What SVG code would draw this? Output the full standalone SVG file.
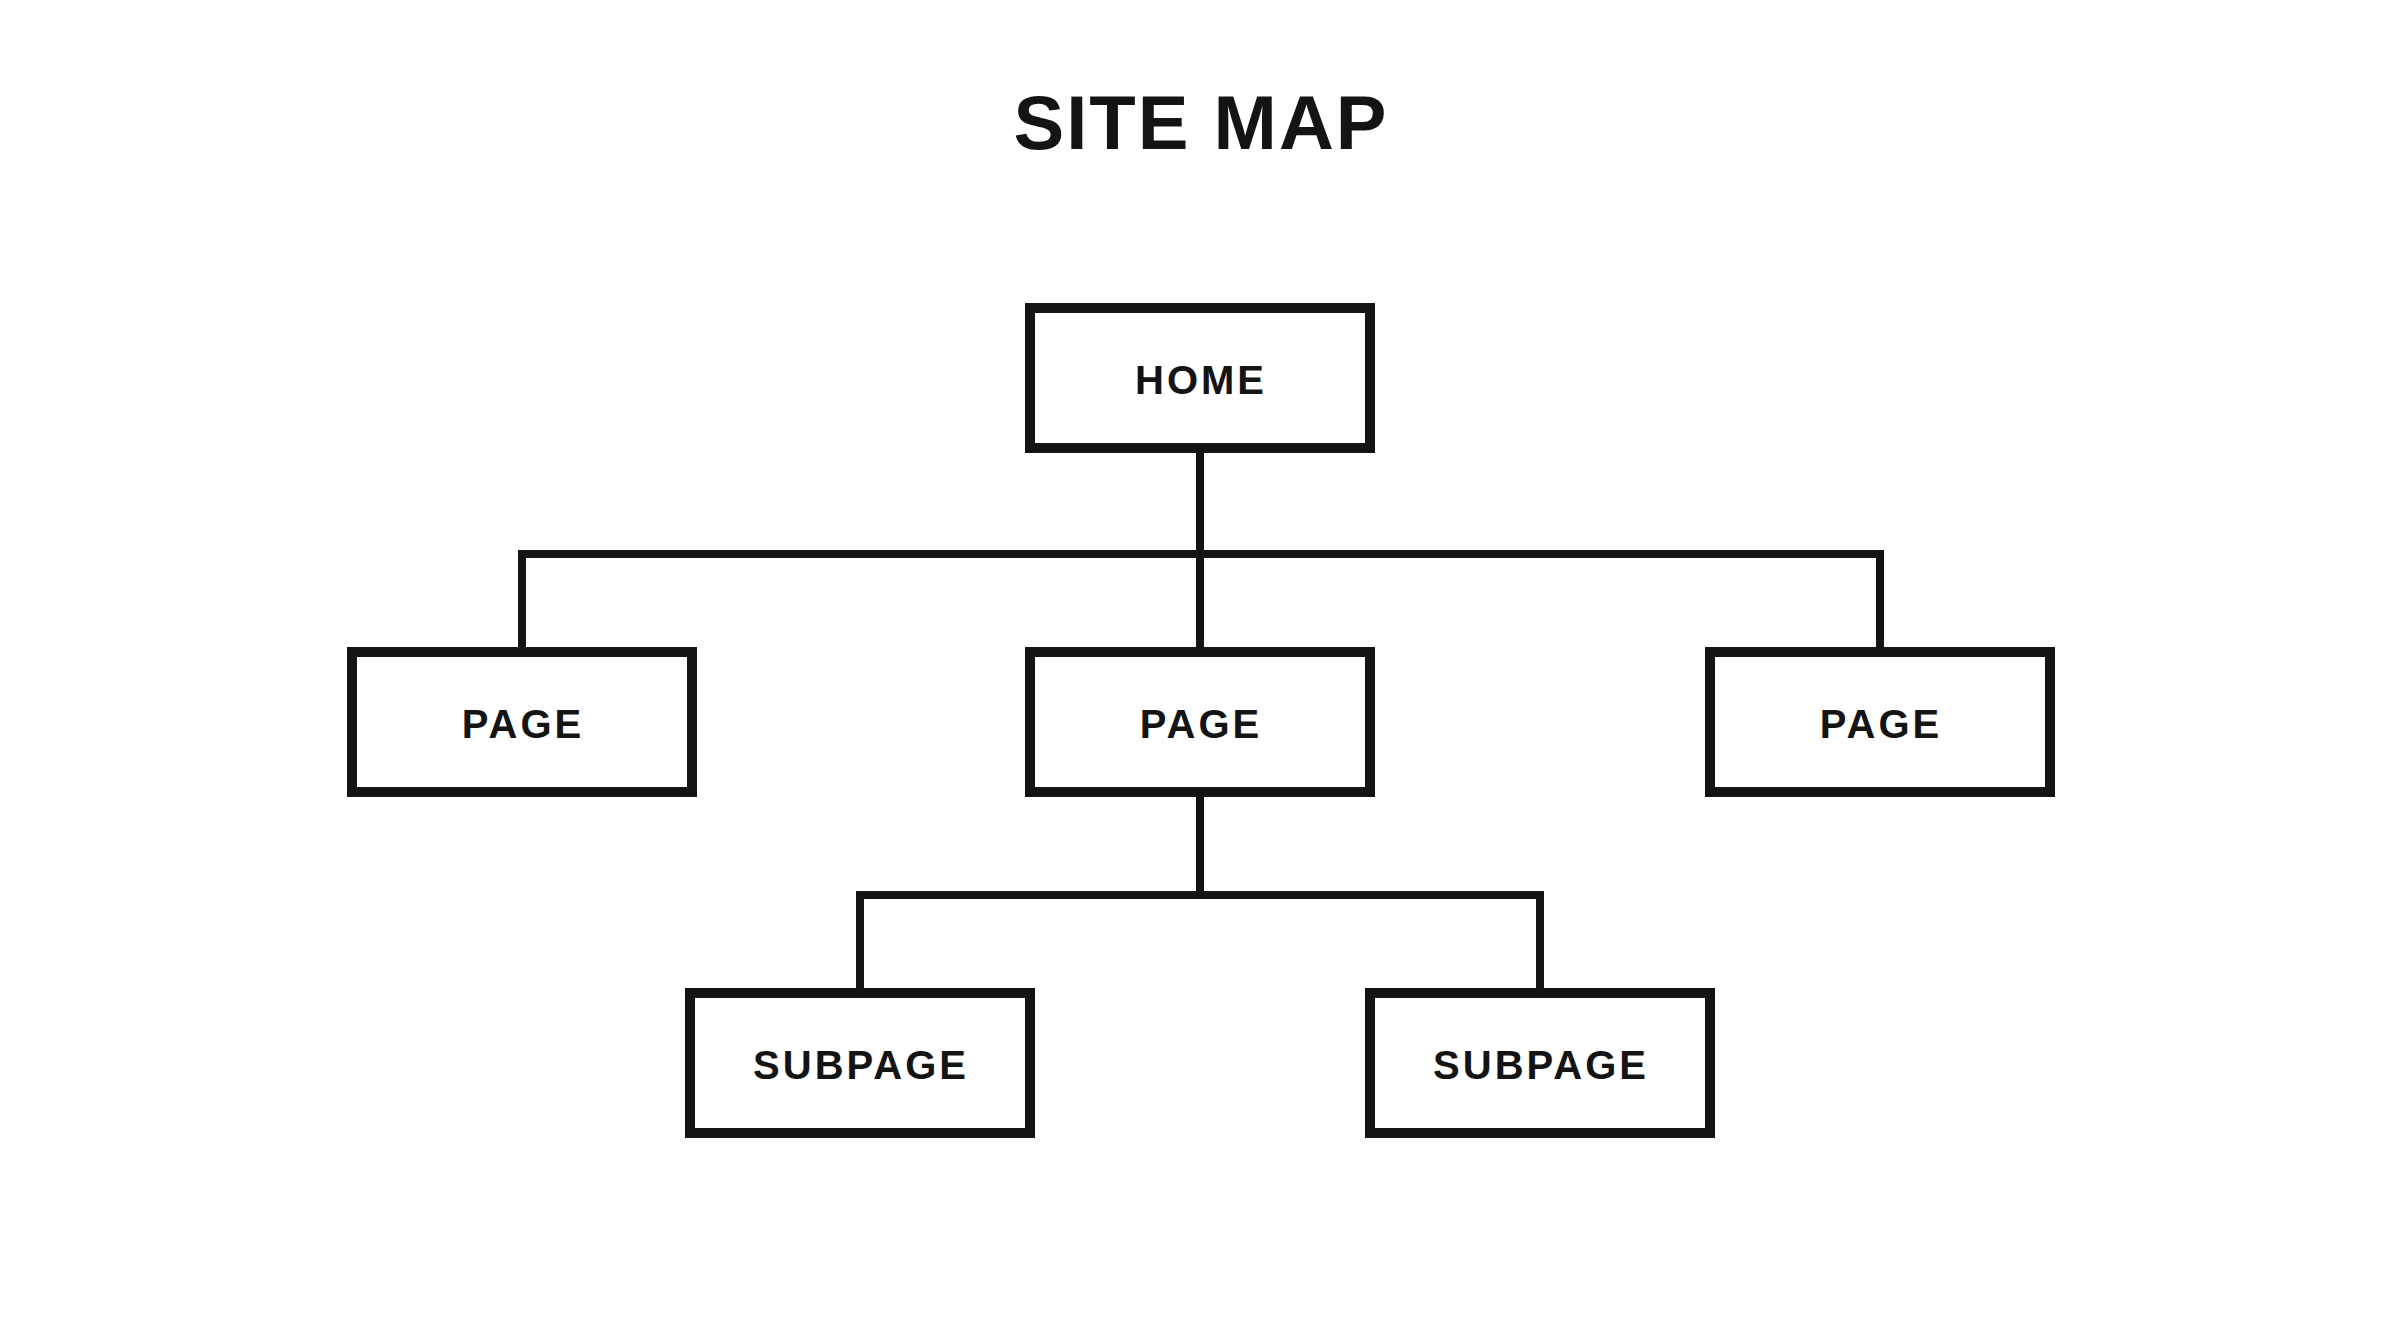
<svg xmlns="http://www.w3.org/2000/svg" width="2400" height="1330" viewBox="0 0 2400 1330">
<style>
.box{fill:#fff;stroke:#141414;stroke-width:10}
.lbl{font-family:"Liberation Sans",Arial,sans-serif;font-weight:bold;font-size:40px;letter-spacing:3px;fill:#141414;text-anchor:middle}
.ttl{font-family:"Liberation Sans",Arial,sans-serif;font-weight:bold;font-size:76px;letter-spacing:2px;fill:#141414;text-anchor:middle}
.ln{stroke:#141414;stroke-width:8;fill:none}
</style>
<rect width="2400" height="1330" fill="#fff"/>
<text class="ttl" x="1201" y="149">SITE MAP</text>
<g id="connectors">
<path class="ln" d="M1200 453V647M522 554H1880M522 550V647M1880 550V647"/>
<path class="ln" d="M1200 797V895M860 895H1540M860 891V988M1540 891V988"/>
</g>
<g id="home"><rect class="box" x="1030" y="308" width="340" height="140"/><text class="lbl" x="1201" y="394">HOME</text></g>
<g id="page1"><rect class="box" x="352" y="652" width="340" height="140"/><text class="lbl" x="523" y="738">PAGE</text></g>
<g id="page2"><rect class="box" x="1030" y="652" width="340" height="140"/><text class="lbl" x="1201" y="738">PAGE</text></g>
<g id="page3"><rect class="box" x="1710" y="652" width="340" height="140"/><text class="lbl" x="1881" y="738">PAGE</text></g>
<g id="sub1"><rect class="box" x="690" y="993" width="340" height="140"/><text class="lbl" x="861" y="1079">SUBPAGE</text></g>
<g id="sub2"><rect class="box" x="1370" y="993" width="340" height="140"/><text class="lbl" x="1541" y="1079">SUBPAGE</text></g>
</svg>
